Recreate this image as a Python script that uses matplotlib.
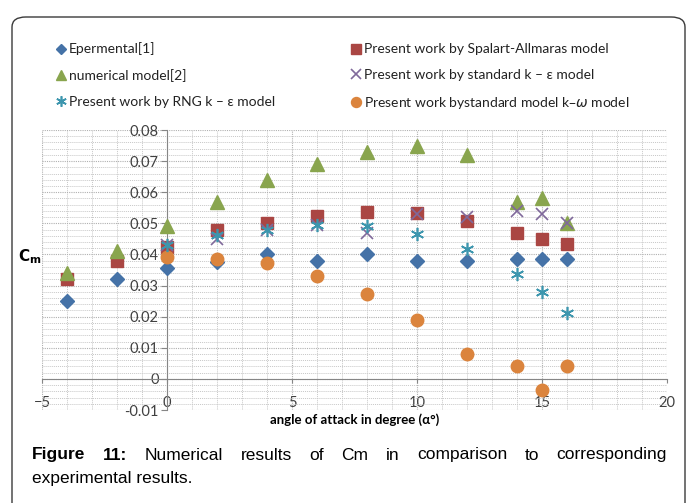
import numpy as np
import matplotlib
matplotlib.use("Agg")
import matplotlib.pyplot as plt
from matplotlib.patches import FancyBboxPatch
from matplotlib.ticker import MultipleLocator

# data
alpha_exp = [-4, -2, 0, 2, 4, 6, 8, 10, 12, 14, 15, 16]
cm_exp = [0.025, 0.032, 0.0355, 0.0376, 0.040, 0.038, 0.040, 0.038, 0.038, 0.0386, 0.0386, 0.0386]

alpha_num = [-4, -2, 0, 2, 4, 6, 8, 10, 12, 14, 15, 16]
cm_num = [0.034, 0.041, 0.049, 0.057, 0.064, 0.069, 0.073, 0.075, 0.072, 0.057, 0.058, 0.050]

alpha_sa = [-4, -2, 0, 2, 4, 6, 8, 10, 12, 14, 15, 16]
cm_sa = [0.0322, 0.0378, 0.0425, 0.0479, 0.050, 0.0525, 0.0538, 0.0532, 0.0506, 0.0468, 0.0449, 0.0432]

alpha_ke = [0, 2, 4, 6, 8, 10, 12, 14, 15, 16]
cm_ke = [0.043, 0.0449, 0.048, 0.0495, 0.047, 0.053, 0.052, 0.054, 0.053, 0.050]

alpha_rng = [0, 2, 4, 6, 8, 10, 12, 14, 15, 16]
cm_rng = [0.043, 0.0463, 0.048, 0.0495, 0.049, 0.0466, 0.0417, 0.0338, 0.0278, 0.0211]

alpha_kw = [0, 2, 4, 6, 8, 10, 12, 14, 15, 16]
cm_kw = [0.0391, 0.0385, 0.0374, 0.0331, 0.0273, 0.019, 0.0079, 0.0043, -0.0035, 0.004]

labels = ["Epermental[1]", "numerical model[2]", "Present work by RNG k \u2013 \u03b5 model",
          "Present work by Spalart-Allmaras model", "Present work by standard k \u2013 \u03b5 model",
          "Present work bystandard model k\u2013$\\omega$ model"]

W, H = 689, 503
fig = plt.figure(figsize=(W / 100, H / 100), dpi=100)
chart_font = ["Lato", "DejaVu Sans"]
tick_col = "#404040"
axis_col = "#868686"

ax = fig.add_axes([42 / W, 1 - 410 / H, 625 / W, 280 / H])
ax.set_xlim(-5, 20)
ax.set_ylim(-0.01, 0.08)
ax.xaxis.set_major_locator(MultipleLocator(5))
ax.xaxis.set_minor_locator(MultipleLocator(1))
ax.yaxis.set_major_locator(MultipleLocator(0.01))
ax.yaxis.set_minor_locator(MultipleLocator(0.002))
ax.grid(which="major", color="#b0b0b0", linestyle=(0, (1, 1)), linewidth=0.8)
ax.grid(which="minor", color="#c8c8c8", linestyle=(0, (1, 1)), linewidth=0.7)
ax.set_axisbelow(True)

# axes cross at zero, excel style
for s in ["top", "right"]:
    ax.spines[s].set_visible(False)
ax.spines["left"].set_position(("data", 0))
ax.spines["bottom"].set_position(("data", 0))
ax.spines["left"].set_color(axis_col)
ax.spines["bottom"].set_color(axis_col)
ax.tick_params(axis="y", which="major", length=4, color=axis_col, labelcolor=tick_col, labelsize=10.5, pad=2)
ax.tick_params(axis="x", which="major", length=3, color=axis_col, labelcolor=tick_col, labelsize=10.5, pad=9)
ax.tick_params(which="minor", length=0)
ax.set_yticks(np.arange(-0.01, 0.0801, 0.01))
ax.set_yticklabels(["-0.01", "0", "0.01", "0.02", "0.03", "0.04", "0.05", "0.06", "0.07", "0.08"])
for t in ax.get_xticklabels() + ax.get_yticklabels():
    t.set_family(chart_font)

h1, = ax.plot(alpha_exp, cm_exp, "D", color="#4572A7", ms=7, linestyle="none", zorder=3)
h4, = ax.plot(alpha_sa, cm_sa, "s", color="#AA4643", ms=8.5, linestyle="none", zorder=3)
h2, = ax.plot(alpha_num, cm_num, "^", color="#89A54E", ms=9.5, linestyle="none", zorder=3)
h5, = ax.plot(alpha_ke, cm_ke, "x", color="#80699B", ms=8.5, mew=1.2, linestyle="none", zorder=4)
h3, = ax.plot(alpha_rng, cm_rng, marker=(6, 2, 0), color="#3D96AE", ms=9.5, mew=1.2, linestyle="none", zorder=4)
h6, = ax.plot(alpha_kw, cm_kw, "o", color="#DB843D", ms=9, linestyle="none", zorder=3)

leg = fig.legend([h1, h2, h3, h4, h5, h6], labels, ncol=2, loc="upper left",
                 bbox_to_anchor=(44 / W, 1 - 30 / H), frameon=False,
                 prop={"family": chart_font, "size": 10}, handlelength=0.6,
                 handletextpad=0.3, columnspacing=5.5, labelspacing=1.0, markerscale=0.8)
for t in leg.get_texts():
    t.set_color("#222222")

fig.text(30 / W, 1 - 257 / H, r"$\mathbf{C_m}$", ha="center", va="center", fontsize=11)
fig.text(355 / W, 1 - 420 / H, "angle of attack in degree (\u03b1\u00b0)", ha="center", va="center",
         fontsize=9.5, fontweight="bold", family=chart_font)

# rounded frame round the whole figure
frame = FancyBboxPatch((12 / W, -0.05), 673 / W, (H - 17) / H + 0.05,
                       boxstyle="round,pad=0,rounding_size=0.02", transform=fig.transFigure,
                       facecolor="none", edgecolor="#3a3a3a", linewidth=1.0, clip_on=False)
fig.patches.append(frame)

# caption, first line justified
cap_words = ["Figure", "11:", "Numerical", "results", "of", "Cm", "in", "comparison", "to", "corresponding"]
x0, x1 = 32, 667
y1 = 1 - 455 / H
r = fig.canvas.get_renderer()
objs = []
for i, w in enumerate(cap_words):
    objs.append(fig.text(0, y1, w, fontsize=12.5, family="Liberation Sans",
                         fontweight="bold" if i < 2 else "normal", va="center"))
widths = [o.get_window_extent(r).width for o in objs]
gap = (x1 - x0 - sum(widths)) / (len(objs) - 1)
x = x0
for o, wd in zip(objs, widths):
    o.set_x(x / W)
    x += wd + gap
fig.text(x0 / W, 1 - 478 / H, "experimental results.", fontsize=12.5, family="Liberation Sans", va="center")

fig.savefig("out.png", dpi=100)
